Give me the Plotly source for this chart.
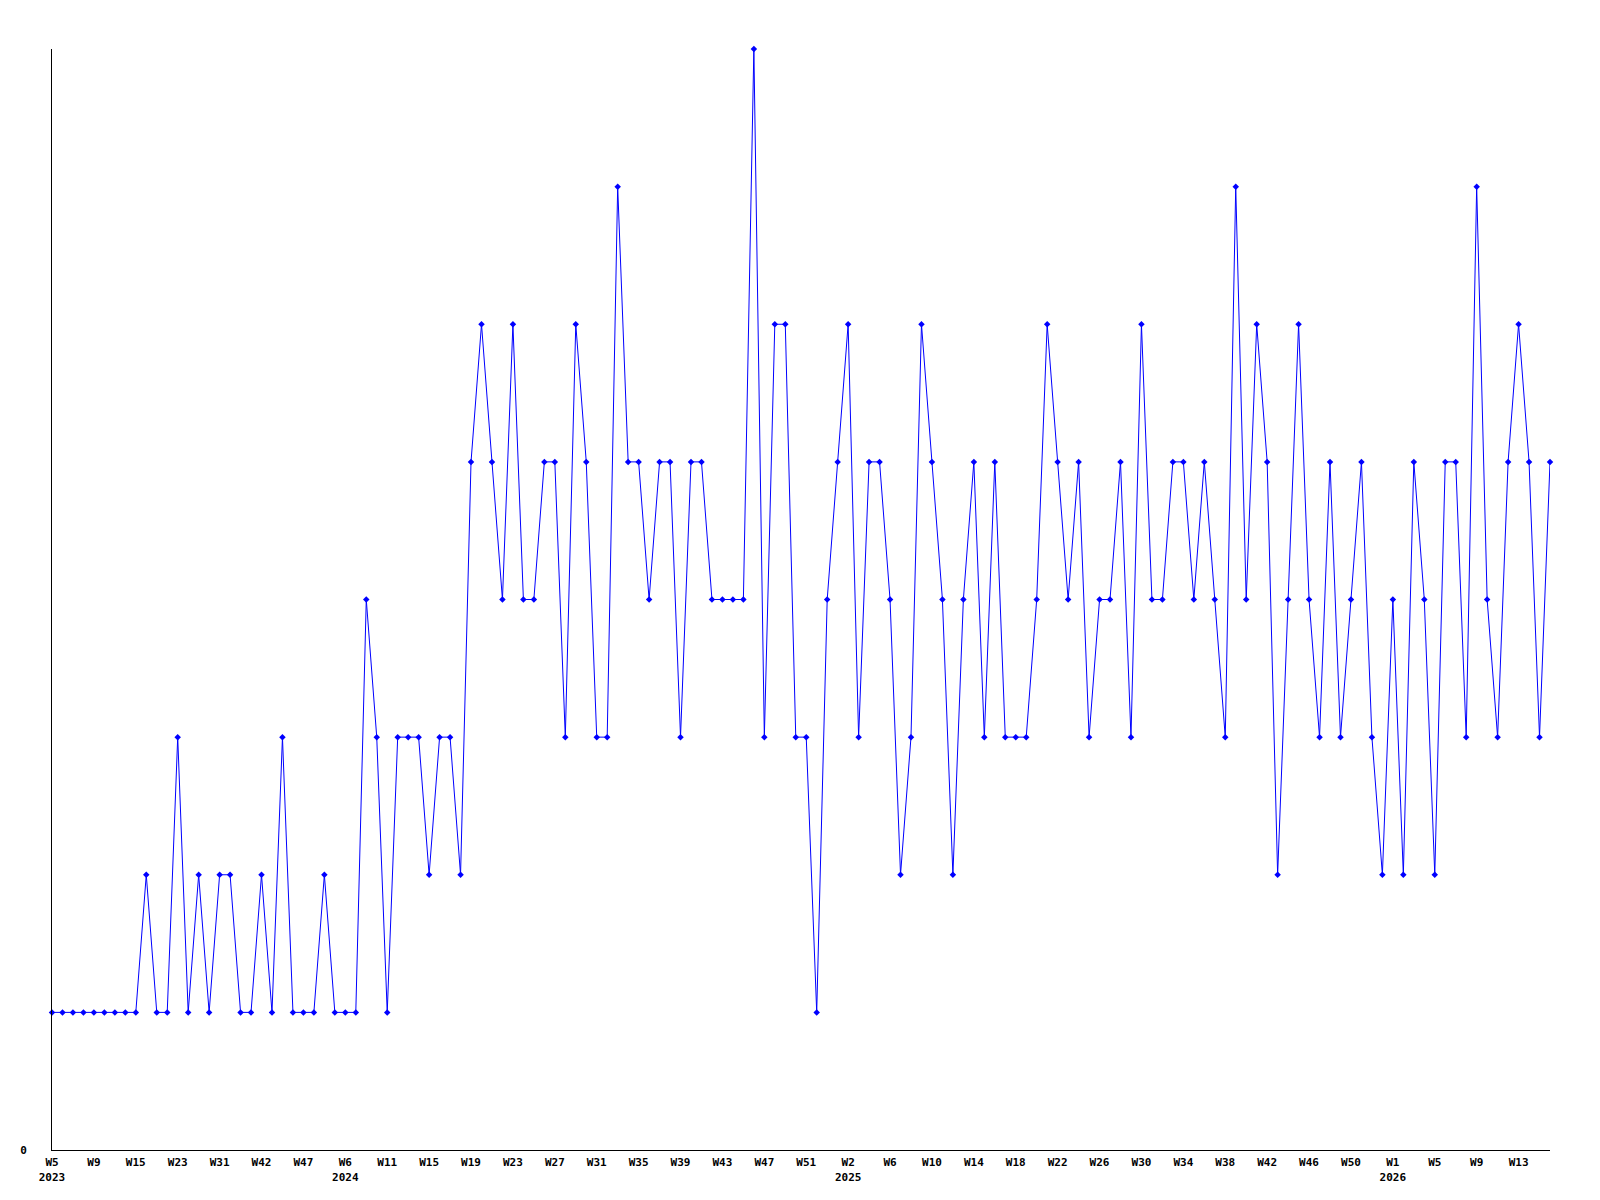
import plotly.graph_objects as go

# weekly values, one per point
values = [
    1, 1, 1, 1, 1, 1, 1, 1, 1, 2, 1, 1, 3, 1, 2, 1, 2, 2, 1, 1,
    2, 1, 3, 1, 1, 1, 2, 1, 1, 1, 4, 3, 1, 3, 3, 3, 2, 3, 3, 2,
    5, 6, 5, 4, 6, 4, 4, 5, 5, 3, 6, 5, 3, 3, 7, 5, 5, 4, 5, 5,
    3, 5, 5, 4, 4, 4, 4, 8, 3, 6, 6, 3, 3, 1, 4, 5, 6, 3, 5, 5,
    4, 2, 3, 6, 5, 4, 2, 4, 5, 3, 5, 3, 3, 3, 4, 6, 5, 4, 5, 3,
    4, 4, 5, 3, 6, 4, 4, 5, 5, 4, 5, 4, 3, 7, 4, 6, 5, 2, 4, 6,
    4, 3, 5, 3, 4, 5, 3, 2, 4, 2, 5, 4, 2, 5, 5, 3, 7, 4, 3, 5,
    6, 5, 3, 5,
]

# a label every 4th point
week_labels = [
    "W5", "W9", "W15", "W23", "W31", "W42", "W47",
    "W6", "W11", "W15", "W19", "W23", "W27", "W31", "W35", "W39", "W43", "W47", "W51",
    "W2", "W6", "W10", "W14", "W18", "W22", "W26", "W30", "W34", "W38", "W42", "W46", "W50",
    "W1", "W5", "W9", "W13",
]
year_labels = {0: "2023", 7: "2024", 19: "2025", 32: "2026"}

x = list(range(len(values)))
tick_step = 4
tickvals = [i * tick_step for i in range(len(week_labels))]
ticktext = [
    f"{w}<br>{year_labels[i]}" if i in year_labels else w
    for i, w in enumerate(week_labels)
]

font = dict(family="DejaVu Sans Mono", size=11, color="black", weight="bold")

fig = go.Figure()
fig.add_trace(go.Scatter(
    x=x, y=values, mode="lines+markers",
    line=dict(color="#0000ff", width=1),
    marker=dict(symbol="diamond", size=5, color="#0000ff"),
    cliponaxis=False, showlegend=False,
))

# page body adds an 8px offset, margins account for it
fig.update_layout(
    width=1600, height=1200,
    margin=dict(l=42, r=58, t=41, b=58),
    paper_bgcolor="white", plot_bgcolor="white",
    font=font,
)
fig.update_xaxes(
    range=[0, len(values) - 1], showgrid=False, zeroline=False,
    showline=True, linecolor="black", linewidth=1,
    tickmode="array", tickvals=tickvals, ticktext=ticktext,
    ticks="", tickangle=0, tickfont=font, ticklabelstandoff=2,
)
fig.update_yaxes(
    range=[0, 8], showgrid=False, zeroline=False,
    showline=True, linecolor="black", linewidth=1,
    tickmode="array", tickvals=[0], ticktext=["0"],
    ticks="", tickfont=font, ticklabelstandoff=22,
)

fig.write_html("out.html")
